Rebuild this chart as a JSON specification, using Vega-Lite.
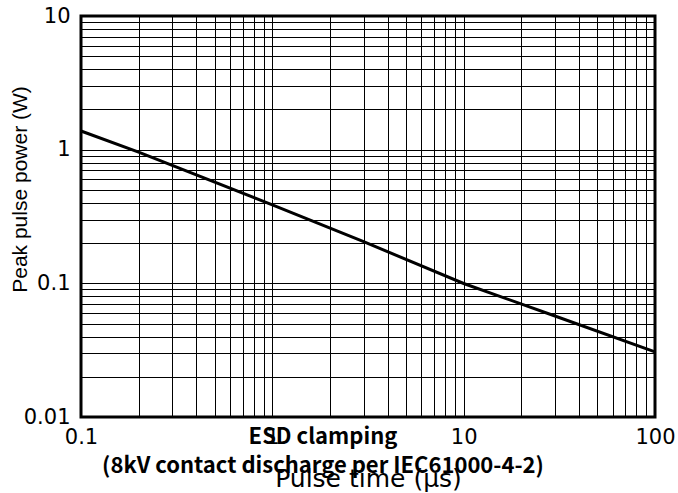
{
  "$schema": "https://vega.github.io/schema/vega-lite/v6.json",
  "width": 574,
  "height": 401,
  "autosize": {"type": "none"},
  "padding": {"left": 81, "top": 16, "right": 23, "bottom": 76},
  "background": "white",
  "config": {"view": {"stroke": "black", "strokeWidth": 3}},
  "datasets": {
    "curve": [
      {"t": 0.1, "p": 1.38},
      {"t": 0.2, "p": 0.96},
      {"t": 1, "p": 0.386},
      {"t": 3, "p": 0.205},
      {"t": 10, "p": 0.0997},
      {"t": 30, "p": 0.057},
      {"t": 100, "p": 0.0307}
    ],
    "notes": [
      {"t": 1.84, "p": 0.0071, "text": "ESD clamping"},
      {"t": 1.84, "p": 0.0043, "text": "(8kV contact discharge per IEC61000-4-2)"}
    ]
  },
  "layer": [
    {
      "data": {"name": "curve"},
      "mark": {"type": "line", "color": "black", "strokeWidth": 3},
      "encoding": {
        "x": {
          "field": "t",
          "type": "quantitative",
          "scale": {"type": "log", "domain": [0.1, 100]},
          "axis": {
            "title": "Pulse time (μs)",
            "values": [0.1, 0.2, 0.3, 0.4, 0.5, 0.6, 0.7, 0.8, 0.9, 1, 2, 3, 4, 5, 6, 7, 8, 9, 10, 20, 30, 40, 50, 60, 70, 80, 90, 100],
            "format": "~g",
            "labelExpr": "indexof(['0.1','1','10','100'], datum.label) >= 0 ? datum.label : ''",
            "grid": true,
            "gridColor": "black",
            "gridOpacity": 1,
            "gridWidth": 1,
            "domain": false,
            "ticks": false,
            "tickSize": 0,
            "labelFont": "DejaVu Sans",
            "labelFontSize": 21,
            "labelColor": "black",
            "labelPadding": 20,
            "labelBaseline": "middle",
            "labelFlush": false,
            "labelOverlap": false,
            "titleFont": "DejaVu Sans",
            "titleFontSize": 25,
            "titleFontWeight": "normal",
            "titleColor": "black",
            "titleY": 61,
            "titleBaseline": "middle"
          }
        },
        "y": {
          "field": "p",
          "type": "quantitative",
          "scale": {"type": "log", "domain": [0.01, 10]},
          "axis": {
            "title": "Peak pulse power (W)",
            "values": [0.01, 0.02, 0.03, 0.04, 0.05, 0.06, 0.07, 0.08, 0.09, 0.1, 0.2, 0.3, 0.4, 0.5, 0.6, 0.7, 0.8, 0.9, 1, 2, 3, 4, 5, 6, 7, 8, 9, 10],
            "format": "~g",
            "labelExpr": "indexof(['0.01','0.1','1','10'], datum.label) >= 0 ? datum.label : ''",
            "grid": true,
            "gridColor": "black",
            "gridOpacity": 1,
            "gridWidth": 1,
            "domain": false,
            "ticks": false,
            "tickSize": 0,
            "labelFont": "DejaVu Sans",
            "labelFontSize": 21,
            "labelColor": "black",
            "labelPadding": 11,
            "labelFlush": false,
            "labelOverlap": false,
            "titleFont": "Liberation Sans",
            "titleFontSize": 21,
            "titleFontWeight": "normal",
            "titleColor": "black",
            "titleX": -61,
            "titleY": 173,
            "titleBaseline": "middle"
          }
        }
      }
    },
    {
      "data": {"name": "notes"},
      "mark": {"type": "text", "font": "Noto Sans CJK JP", "fontWeight": "bold", "fontSize": 22, "color": "black", "baseline": "middle"},
      "encoding": {
        "x": {"field": "t", "type": "quantitative"},
        "y": {"field": "p", "type": "quantitative"},
        "text": {"field": "text"}
      }
    }
  ]
}
